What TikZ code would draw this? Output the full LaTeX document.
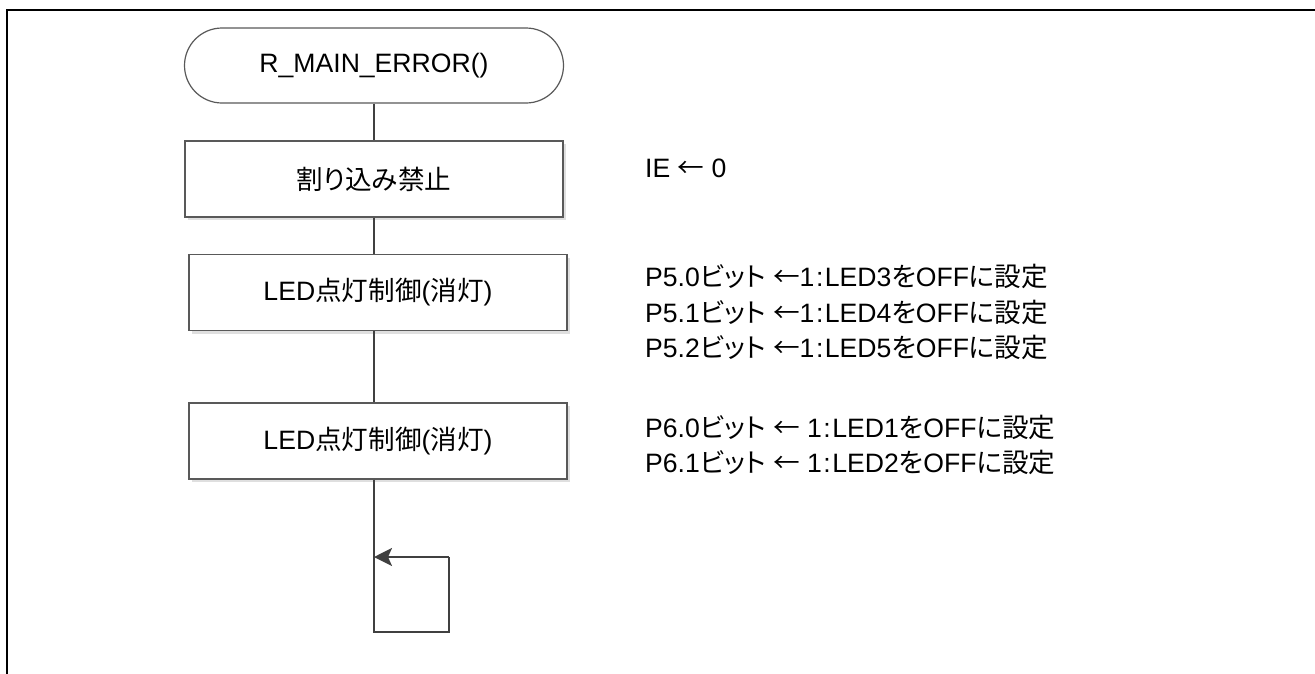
\documentclass[tikz,border=0pt]{standalone}
\usepackage{fontspec}
\setmainfont{Liberation Sans}
\newfontfamily\jpfont[RawFeature=+palt]{Noto Sans CJK JP}
\newcommand{\jp}[1]{{\jpfont #1}}
\usetikzlibrary{arrows.meta,shadows}

\tikzset{
  flowline/.style={draw=black!75, line width=2.2pt},
  term/.style={draw=black!65, line width=1.2pt, fill=white,
    rounded corners=37.5pt, minimum width=379pt, minimum height=75pt},
  procbox/.style={draw=black!65, line width=1.2pt, fill=white,
    minimum width=378pt, minimum height=76pt,
    drop shadow={shadow xshift=3pt, shadow yshift=-3pt, fill=black!25}},
  note/.style={anchor=base west, inner sep=0pt}
}

\begin{document}
\begin{tikzpicture}[x=1pt,y=-1pt,font=\fontsize{26.6pt}{32pt}\selectfont]
  \useasboundingbox (0,0) rectangle (1315,673);
  % page frame
  \draw[line width=2.4pt] (7,690) -- (7,10) -- (1330,10);

  \node[term] (start) at (374,65.5) {R\_MAIN\_ERROR()};
  \node[procbox] (intoff) at (374,179) {\jp{割り込み禁止}};
  \node[procbox] (ledp5) at (378,292.5) {LED\jp{点灯制御}(\jp{消灯})};
  \node[procbox] (ledp6) at (378,441) {LED\jp{点灯制御}(\jp{消灯})};

  % endless loop
  \coordinate (loopbot) at (374,632);
  \coordinate (loopright) at (449,632);
  \coordinate (looptop) at (449,557);
  \coordinate (loopin) at (374,557);

  \draw[flowline] (start) -- (intoff);
  \draw[flowline] (intoff.south) -- (intoff.south |- ledp5.north);
  \draw[flowline] (ledp5.south -| intoff.south) -- (ledp6.north -| intoff.south);
  \draw[flowline] (ledp6.south -| intoff.south) -- (loopbot) -- (loopright) -- (looptop);
  \draw[flowline,-{Stealth[length=18pt,width=18pt,inset=4pt]}] (looptop) -- (loopin);

  % comments
  \node[note] (ie) at (645,177) {IE \jp{←} 0};
  \node[note] (p50) at (645,286) {P5.0\jp{ビット} \jp{←}1\hspace{1.5pt}:\hspace{1.5pt}LED3\jp{を}OFF\jp{に設定}};
  \node[note] (p51) at (645,322) {P5.1\jp{ビット} \jp{←}1\hspace{1.5pt}:\hspace{1.5pt}LED4\jp{を}OFF\jp{に設定}};
  \node[note] (p52) at (645,357) {P5.2\jp{ビット} \jp{←}1\hspace{1.5pt}:\hspace{1.5pt}LED5\jp{を}OFF\jp{に設定}};
  \node[note] (p60) at (645,437) {P6.0\jp{ビット} \jp{←} 1\hspace{1.5pt}:\hspace{1.5pt}LED1\jp{を}OFF\jp{に設定}};
  \node[note] (p61) at (645,472) {P6.1\jp{ビット} \jp{←} 1\hspace{1.5pt}:\hspace{1.5pt}LED2\jp{を}OFF\jp{に設定}};
\end{tikzpicture}
\end{document}
